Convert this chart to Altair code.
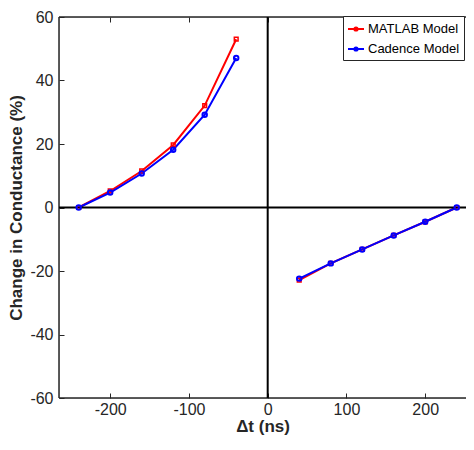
import altair as alt
import pandas as pd

# ---- data ----
dt_left = [-240, -200, -160, -120, -80, -40]
dt_right = [40, 80, 120, 160, 200, 240]
matlab_left = [0, 5.2, 11.5, 19.7, 32.1, 53.0]
cadence_left = [0, 4.7, 10.7, 18.2, 29.2, 47.1]
matlab_right = [-22.9, -17.6, -13.2, -8.8, -4.5, 0]
cadence_right = [-22.4, -17.6, -13.2, -8.8, -4.5, 0]
series = ["MATLAB Model", "Cadence Model"]
colors = ["#ff0000", "#0000ff"]
x_ticks = [-200, -100, 0, 100, 200]
y_ticks = [-60, -40, -20, 0, 20, 40, 60]
x_lim = [-265, 251.8]
y_lim = [-60, 60]

rows = []
for s, left, right in [(series[0], matlab_left, matlab_right),
                       (series[1], cadence_left, cadence_right)]:
    for x, y in zip(dt_left, left):
        rows.append({"dt": x, "change": y, "series": s, "branch": "neg"})
    for x, y in zip(dt_right, right):
        rows.append({"dt": x, "change": y, "series": s, "branch": "pos"})
df = pd.DataFrame(rows)

FONT = "Liberation Sans"
INK = "#262626"

xscale = alt.Scale(domain=x_lim, nice=False, zero=False)
yscale = alt.Scale(domain=y_lim, nice=False)

common_axis = dict(domain=False, grid=False, tickSize=5, offset=-5, tickColor=INK,
                   tickWidth=1, labelColor=INK, labelFont=FONT, labelFontSize=16,
                   titleFont=FONT, titleFontSize=17, titleFontWeight="bold",
                   titleColor=INK, labelExpr="'' + datum.value")

xaxis = alt.Axis(values=x_ticks, title="Δt (ns)", labelPadding=3,
                 titlePadding=1, **common_axis)
yaxis = alt.Axis(values=y_ticks, title="Change in Conductance (%)",
                 labelPadding=6, titlePadding=4, **common_axis)

xaxis_top = alt.Axis(values=x_ticks, orient="top", labels=False, title=None,
                     domain=False, grid=False, tickSize=5, offset=-5,
                     tickColor=INK, tickWidth=1)

base = alt.Chart(df)

# axes box (left, top, bottom) drawn at the scale limits
box_v = alt.Chart(pd.DataFrame({"v": [x_lim[0]]})).mark_rule(color=INK, strokeWidth=1.5).encode(
    x=alt.X("v:Q", scale=xscale, axis=None))
box_h = alt.Chart(pd.DataFrame({"v": y_lim})).mark_rule(color=INK, strokeWidth=1.5).encode(
    y=alt.Y("v:Q", scale=yscale, axis=None))

zero_v = alt.Chart(pd.DataFrame({"v": [0]})).mark_rule(color="black", strokeWidth=2).encode(
    x=alt.X("v:Q", scale=xscale, axis=None))
zero_h = alt.Chart(pd.DataFrame({"v": [0]})).mark_rule(color="black", strokeWidth=2).encode(
    y=alt.Y("v:Q", scale=yscale, axis=None))

legend_symbol = "M-1,0H1M0.2,0A0.2,0.2 0 1,1 -0.2,0A0.2,0.2 0 1,1 0.2,0"

lines = base.mark_line(strokeWidth=2).encode(
    x=alt.X("dt:Q", scale=xscale, axis=xaxis),
    y=alt.Y("change:Q", scale=yscale, axis=yaxis),
    color=alt.Color("series:N", scale=alt.Scale(domain=series, range=colors),
                    legend=alt.Legend(title=None, orient="none", legendX=284, legendY=-1,
                                      strokeColor=INK, fillColor="white", padding=4,
                                      labelFont=FONT, labelFontSize=13, labelColor="black",
                                      symbolType=legend_symbol, symbolSize=256,
                                      symbolStrokeWidth=2, labelOffset=3, rowPadding=4)),
    detail="branch:N",
    order="dt:Q",
)

pts_matlab = base.transform_filter(alt.datum.series == series[0]).mark_point(
    shape="square", filled=False, size=14, strokeWidth=1.5, color=colors[0], opacity=1
).encode(x=alt.X("dt:Q", scale=xscale, axis=None),
         y=alt.Y("change:Q", scale=yscale, axis=None))

pts_cadence = base.transform_filter(alt.datum.series == series[1]).mark_point(
    shape="circle", filled=False, size=20, strokeWidth=2, color=colors[1], opacity=1
).encode(x=alt.X("dt:Q", scale=xscale, axis=None),
         y=alt.Y("change:Q", scale=yscale, axis=None))

frame = base.mark_point(opacity=0).encode(
    x=alt.X("dt:Q", scale=xscale, axis=xaxis_top),
    y=alt.Y("change:Q", scale=yscale, axis=None),
)

chart = alt.layer(lines, frame, box_v, box_h, zero_v, zero_h, pts_matlab, pts_cadence).resolve_axis(
    x="independent", y="independent"
).properties(
    width=407, height=381,
    autosize=alt.AutoSizeParams(type="none"),
    padding={"left": 51, "top": 9, "right": 0, "bottom": 40},
).configure_view(stroke=None).configure(background="white")

chart.save("out.html", embed_options={"renderer": "svg", "actions": False})
